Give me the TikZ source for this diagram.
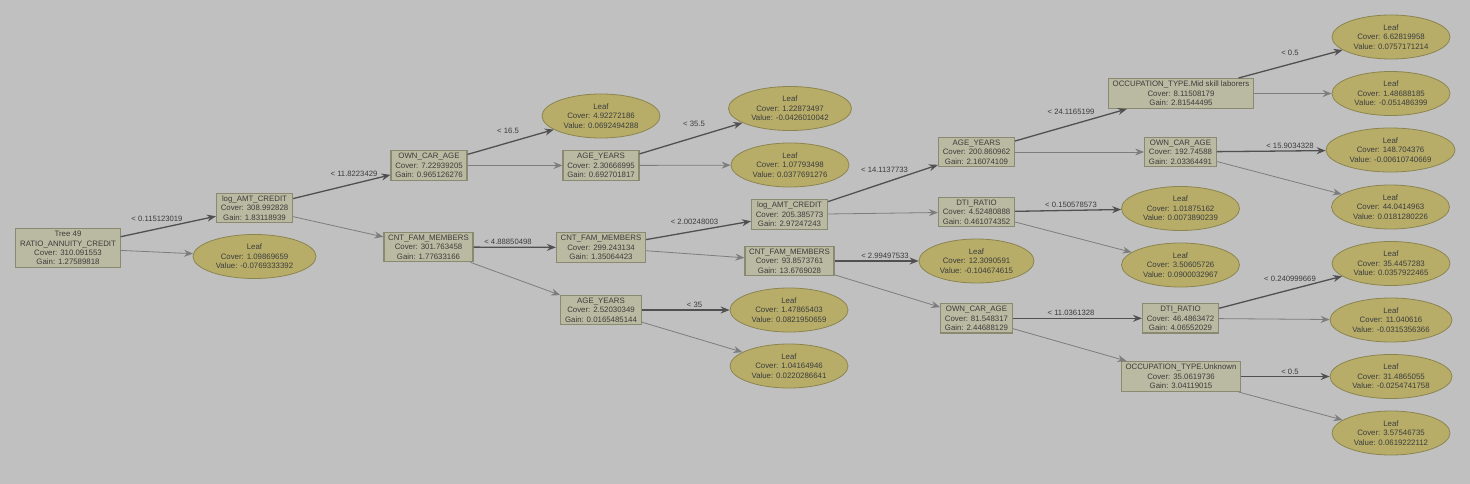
\documentclass[tikz,border=0pt]{standalone}
\usepackage{fontspec}
\setmainfont{Liberation Sans}
\usetikzlibrary{shapes.geometric,arrows.meta}
\definecolor{bg}{RGB}{192,192,192}
\definecolor{boxfill}{RGB}{186,186,162}
\definecolor{boxline}{RGB}{138,138,112}
\definecolor{leaffill}{RGB}{183,173,105}
\definecolor{leafline}{RGB}{140,132,80}
\definecolor{txt}{RGB}{60,60,60}
\definecolor{yesedge}{RGB}{80,80,80}
\definecolor{noedge}{RGB}{125,125,125}
\begin{document}
\begin{tikzpicture}[x=1pt,y=-1pt,
 every node/.style={font=\fontsize{7.85}{9.4}\selectfont, text=txt},
 split/.style={rectangle, draw=boxline, fill=boxfill, line width=1.2pt, align=center, inner xsep=4.2pt, inner ysep=2.6pt},
 leaf/.style={ellipse, draw=leafline, fill=leaffill, line width=0.8pt, align=center, inner sep=0pt, minimum height=44pt, minimum width=#1},
 leaf/.default=118pt,
 yes/.style={draw=yesedge, line width=1.3pt, -{Stealth[length=9pt,width=7pt,inset=3pt]}},
 no/.style={draw=noedge, line width=0.8pt, -{Stealth[length=9pt,width=7pt,inset=3pt]}},
 lab/.style={inner sep=0pt, font=\fontsize{7.7}{9.4}\selectfont}]
\useasboundingbox[fill=bg] (0,0) rectangle (1470,484);

% column 0
\node[split] (root) at (68,248) {Tree 49\\RATIO\_ANNUITY\_CREDIT\\Cover: 310.091553\\Gain: 1.27589818};
% column 1
\node[split] (n1) at (254.5,208) {log\_AMT\_CREDIT\\Cover: 308.992828\\Gain: 1.83118939};
\node[leaf=123pt] (lf1) at (254.5,256.5) {Leaf\\Cover: 1.09869659\\Value: -0.0769333392};
% column 2
\node[split] (n2) at (429,165.5) {OWN\_CAR\_AGE\\Cover: 7.22939205\\Gain: 0.965126276};
\node[split] (n3) at (428.5,247) {CNT\_FAM\_MEMBERS\\Cover: 301.763458\\Gain: 1.77633166};
% column 3
\node[leaf] (lf2) at (601,116) {Leaf\\Cover: 4.92272186\\Value: 0.0692494288};
\node[split] (na) at (601,165.5) {AGE\_YEARS\\Cover: 2.30666995\\Gain: 0.692701817};
\node[split] (nb) at (601,247.5) {CNT\_FAM\_MEMBERS\\Cover: 299.243134\\Gain: 1.35064423};
\node[split] (nc) at (601,310) {AGE\_YEARS\\Cover: 2.52030349\\Gain: 0.0165485144};
% column 4
\node[leaf=123pt] (lf3) at (790,108.5) {Leaf\\Cover: 1.22873497\\Value: -0.0426010042};
\node[leaf] (lf4) at (790,165) {Leaf\\Cover: 1.07793498\\Value: 0.0377691276};
\node[split] (nd) at (789.5,214.5) {log\_AMT\_CREDIT\\Cover: 205.385773\\Gain: 2.97247243};
\node[split] (ne) at (789.5,261) {CNT\_FAM\_MEMBERS\\Cover: 93.8573761\\Gain: 13.6769028};
\node[leaf] (lf5) at (789,310) {Leaf\\Cover: 1.47865403\\Value: 0.0821950659};
\node[leaf] (lf6) at (789,366) {Leaf\\Cover: 1.04164946\\Value: 0.0220286641};
% column 5
\node[split] (nf) at (976.5,152) {AGE\_YEARS\\Cover: 200.860962\\Gain: 2.16074109};
\node[split] (ng) at (976.5,212) {DTI\_RATIO\\Cover: 4.52480888\\Gain: 0.461074352};
\node[leaf=115pt] (lf7) at (976.5,261) {Leaf\\Cover: 12.3090591\\Value: -0.104674615};
\node[split] (nj) at (976.5,318.3) {OWN\_CAR\_AGE\\Cover: 81.548317\\Gain: 2.44688129};
% column 6
\node[split] (nh) at (1181,93.5) {OCCUPATION\_TYPE.Mid skill laborers\\Cover: 8.11508179\\Gain: 2.81544495};
\node[split] (ni) at (1180.5,152) {OWN\_CAR\_AGE\\Cover: 192.74588\\Gain: 2.03364491};
\node[leaf] (lf8) at (1180.5,208.5) {Leaf\\Cover: 1.01875162\\Value: 0.0073890239};
\node[leaf] (lf9) at (1180.5,265) {Leaf\\Cover: 3.50605726\\Value: 0.0900032967};
\node[split] (nk) at (1180.5,318.3) {DTI\_RATIO\\Cover: 46.4863472\\Gain: 4.06552029};
\node[split] (nl) at (1181,376.5) {OCCUPATION\_TYPE.Unknown\\Cover: 35.0619736\\Gain: 3.04119015};
% column 7
\node[leaf] (lf10) at (1391,37) {Leaf\\Cover: 6.62819958\\Value: 0.0757171214};
\node[leaf] (lf11) at (1391,93.5) {Leaf\\Cover: 1.48688185\\Value: -0.051486399};
\node[leaf=129pt] (lf12) at (1390.5,150) {Leaf\\Cover: 148.704376\\Value: -0.00610740669};
\node[leaf] (lf13) at (1390.5,207) {Leaf\\Cover: 44.0414963\\Value: 0.0181280226};
\node[leaf] (lf14) at (1391,263.5) {Leaf\\Cover: 35.4457283\\Value: 0.0357922465};
\node[leaf=122pt] (lf15) at (1391,320) {Leaf\\Cover: 11.040616\\Value: -0.0315356366};
\node[leaf=122pt] (lf16) at (1391,376.5) {Leaf\\Cover: 31.4865055\\Value: -0.0254741758};
\node[leaf] (lf17) at (1391,433) {Leaf\\Cover: 3.57546735\\Value: 0.0619222112};

% edges
\draw[yes] (root) -- (n1);  \draw[no] (root) -- (lf1);
\draw[yes] (n1) -- (n2);    \draw[no] (n1) -- (n3);
\draw[yes] (n2) -- (lf2);   \draw[no] (n2) -- (na);
\draw[yes] (na) -- (lf3);   \draw[no] (na) -- (lf4);
\draw[yes] (n3) -- (nb);    \draw[no] (n3) -- (nc);
\draw[yes] (nb) -- (nd);    \draw[no] (nb) -- (ne);
\draw[yes] (nc) -- (lf5);   \draw[no] (nc) -- (lf6);
\draw[yes] (nd) -- (nf);    \draw[no] (nd) -- (ng);
\draw[yes] (ne) -- (lf7);   \draw[no] (ne) -- (nj);
\draw[yes] (nf) -- (nh);    \draw[no] (nf) -- (ni);
\draw[yes] (ng) -- (lf8);   \draw[no] (ng) -- (lf9);
\draw[yes] (nj) -- (nk);    \draw[no] (nj) -- (nl);
\draw[yes] (nh) -- (lf10);  \draw[no] (nh) -- (lf11);
\draw[yes] (ni) -- (lf12);  \draw[no] (ni) -- (lf13);
\draw[yes] (nk) -- (lf14);  \draw[no] (nk) -- (lf15);
\draw[yes] (nl) -- (lf16);  \draw[no] (nl) -- (lf17);

% edge labels
\node[lab] (t1) at (157,219) {< 0.115123019};
\node[lab] (t2) at (354,174) {< 11.8223429};
\node[lab] (t3) at (508,242) {< 4.88850498};
\node[lab] (t4) at (508,131) {< 16.5};
\node[lab] (t5) at (694,124) {< 35.5};
\node[lab] (t6) at (694.5,222) {< 2.00248003};
\node[lab] (t7) at (694.5,305) {< 35};
\node[lab] (t8) at (884.5,170) {< 14.1137733};
\node[lab] (t9) at (885,256) {< 2.99497533};
\node[lab] (t10) at (1071,112) {< 24.1165199};
\node[lab] (t11) at (1071,205) {< 0.150578573};
\node[lab] (t12) at (1071,313) {< 11.0361328};
\node[lab] (t13) at (1290,53) {< 0.5};
\node[lab] (t14) at (1290,146) {< 15.9034328};
\node[lab] (t15) at (1290,279) {< 0.240999669};
\node[lab] (t16) at (1290,372) {< 0.5};
\end{tikzpicture}
\end{document}
